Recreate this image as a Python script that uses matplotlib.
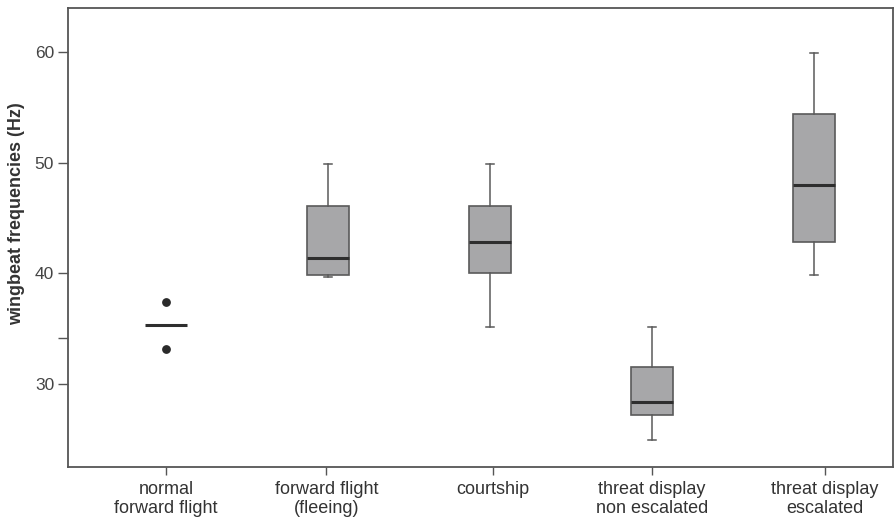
import matplotlib
matplotlib.use("Agg")
import matplotlib.pyplot as plt

plt.rcParams['font.family'] = ['Liberation Sans', 'DejaVu Sans']

categories = ["normal\nforward flight", "forward flight\n(fleeing)", "courtship",
              "threat display\nnon escalated", "threat display\nescalated"]

# five-number summaries (Hz), groups 2-5
whislo = [39.7, 35.2, 24.9, 39.9]
q1 = [39.9, 40.0, 27.2, 42.8]
med = [41.4, 42.8, 28.4, 48.0]
q3 = [46.1, 46.1, 31.5, 54.4]
whishi = [49.9, 49.9, 35.2, 59.9]

# group 1: only two observations plus their median
normal_points = [37.4, 33.2]
normal_median = 35.3

positions = [1, 2, 3, 4, 5]
tick_pos = [1, 1.99, 3.02, 4.0, 5.07]
box_w = 0.26

fig = plt.figure(figsize=(8.95, 5.18), dpi=100)
ax = fig.add_axes([0.076, 0.0985, 0.922, 0.886])

stats = []
for i in range(4):
    stats.append(dict(whislo=whislo[i], q1=q1[i], med=med[i], q3=q3[i],
                      whishi=whishi[i], fliers=[]))

edge = "#5a5a5a"
ax.bxp(stats, positions=positions[1:], widths=box_w, patch_artist=True,
       showfliers=False, capwidths=0.05, manage_ticks=False,
       boxprops=dict(facecolor="#a7a7a9", edgecolor=edge, linewidth=1.2),
       whiskerprops=dict(color=edge, linewidth=1.1),
       capprops=dict(color=edge, linewidth=1.1),
       medianprops=dict(color="#2e2e2e", linewidth=2.2))

ax.hlines(normal_median, positions[0] - box_w / 2, positions[0] + box_w / 2,
          color="#2e2e2e", linewidth=2.2)
ax.scatter([positions[0]] * len(normal_points), normal_points, s=28,
           color="#2a2a2a", zorder=3)

ax.set_xlim(0.395, 5.49)
ax.set_ylim(22.5, 64.0)
ax.set_yticks([30, 40, 50, 60])
ax.set_yticks([34.2], minor=True)
ax.set_xticks(tick_pos)
ax.set_xticklabels(categories, linespacing=1.15)

for s in ax.spines.values():
    s.set_color("#555555")
    s.set_linewidth(1.3)

ax.tick_params(axis="y", which="both", direction="out", length=7, width=1,
               color="#555555", labelsize=12.5, labelcolor="#444444", pad=3)
ax.tick_params(axis="x", direction="out", length=6, width=1, color="#555555",
               labelsize=13, labelcolor="#333333", pad=4)

ax.set_ylabel("wingbeat frequencies (Hz)", fontsize=13, fontweight="bold",
              color="#333333", labelpad=12)
ax.yaxis.set_label_coords(-0.052, 0.551)

fig.savefig("out.png", dpi=100)
